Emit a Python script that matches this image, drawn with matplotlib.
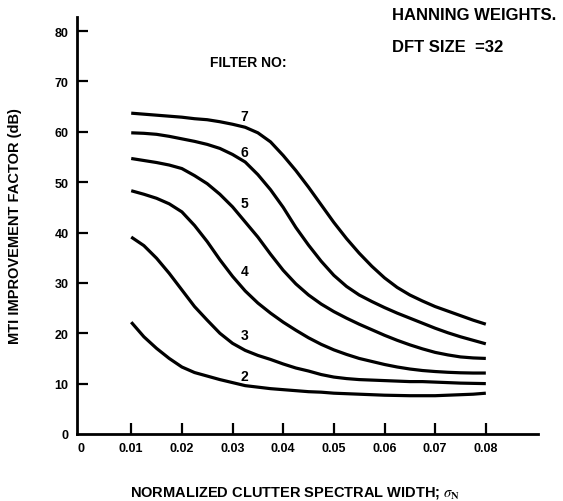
import matplotlib
matplotlib.use("Agg")
import matplotlib.pyplot as plt

plt.rcParams['font.family'] = ['Liberation Sans', 'DejaVu Sans']
plt.rcParams['mathtext.fontset'] = 'stix'

x_vals = [0.0100, 0.0125, 0.0150, 0.0175, 0.0200, 0.0225, 0.0250, 0.0275,
          0.0300, 0.0325, 0.0350, 0.0375, 0.0400, 0.0425, 0.0450, 0.0475,
          0.0500, 0.0525, 0.0550, 0.0575, 0.0600, 0.0625, 0.0650, 0.0675,
          0.0700, 0.0725, 0.0750, 0.0775, 0.0800]

filter_7 = [63.7, 63.5, 63.3, 63.1, 62.9, 62.6, 62.4, 62.0, 61.5, 60.9, 59.8, 58.0,
            55.3, 52.3, 49.0, 45.5, 42.0, 38.8, 35.9, 33.3, 31.0, 29.1, 27.6, 26.4,
            25.3, 24.4, 23.5, 22.6, 21.8]
filter_6 = [59.8, 59.7, 59.5, 59.1, 58.6, 58.1, 57.5, 56.7, 55.5, 54.0, 51.5, 48.5,
            45.0, 41.0, 37.5, 34.3, 31.5, 29.3, 27.6, 26.3, 25.1, 24.0, 23.0, 22.0,
            21.0, 20.1, 19.3, 18.6, 17.9]
filter_5 = [54.7, 54.3, 53.9, 53.4, 52.7, 51.3, 49.7, 47.6, 45.1, 42.1, 39.1, 35.7,
            32.5, 29.8, 27.6, 25.8, 24.3, 23.0, 21.8, 20.7, 19.6, 18.6, 17.7, 16.9,
            16.2, 15.7, 15.3, 15.1, 15.0]
filter_4 = [48.3, 47.6, 46.8, 45.7, 44.1, 41.4, 38.2, 34.6, 31.3, 28.4, 26.0, 24.0,
            22.2, 20.6, 19.1, 17.8, 16.7, 15.8, 15.0, 14.4, 13.8, 13.3, 12.9, 12.6,
            12.4, 12.25, 12.15, 12.1, 12.1]
filter_3 = [39.1, 37.4, 34.9, 31.9, 28.6, 25.3, 22.6, 20.0, 18.0, 16.6, 15.6, 14.8,
            13.9, 13.1, 12.5, 11.8, 11.3, 11.0, 10.8, 10.7, 10.6, 10.5, 10.4, 10.4,
            10.3, 10.2, 10.1, 10.05, 10.0]
filter_2 = [22.2, 19.3, 17.0, 15.0, 13.3, 12.2, 11.5, 10.8, 10.2, 9.6, 9.3, 9.0,
            8.8, 8.6, 8.4, 8.3, 8.1, 8.0, 7.9, 7.8, 7.7, 7.65, 7.6, 7.6,
            7.6, 7.7, 7.8, 7.9, 8.1]

series = {"7": filter_7, "6": filter_6, "5": filter_5,
          "4": filter_4, "3": filter_3, "2": filter_2}
label_x = 0.0323
label_y = {"7": 63.2, "6": 56.0, "5": 45.9, "4": 32.3, "3": 19.6, "2": 11.5}

x_ticks = [0, 0.01, 0.02, 0.03, 0.04, 0.05, 0.06, 0.07, 0.08]
x_tick_labels = ["0", "0.01", "0.02", "0.03", "0.04", "0.05", "0.06", "0.07", "0.08"]
y_ticks = [0, 10, 20, 30, 40, 50, 60, 70, 80]

fig = plt.figure(figsize=(5.63, 5.02), dpi=100)
ax = fig.add_axes([0.1368, 0.1335, 0.8188, 0.8307])

for name, vals in series.items():
    ax.plot(x_vals, vals, color='black', lw=2.3, solid_capstyle='butt',
            solid_joinstyle='round')
    ax.text(label_x, label_y[name], name, ha='center', va='center',
            fontsize=10, fontweight='bold')

ax.set_xlim(-0.0007, 0.0903)
ax.set_ylim(0, 82.8)
ax.set_xticks(x_ticks)
ax.set_xticklabels(x_tick_labels)
ax.set_yticks(y_ticks)
for s in ['top', 'right']:
    ax.spines[s].set_visible(False)
for s in ['left', 'bottom']:
    ax.spines[s].set_linewidth(2.0)
ax.tick_params(axis='both', direction='in', length=8, width=1.6,
               labelsize=9, pad=6)
for lab in ax.get_xticklabels() + ax.get_yticklabels():
    lab.set_fontweight('bold')
ax.xaxis.get_major_ticks()[0].tick1line.set_visible(False)
ax.yaxis.get_major_ticks()[0].tick1line.set_visible(False)

ax.text(0.0331, 73.9, "FILTER NO:", ha='center', va='center',
        fontsize=10, fontweight='bold')

fig.text(0.696, 0.970, "HANNING WEIGHTS.", ha='left', va='center',
         fontsize=12, fontweight='bold')
fig.text(0.696, 0.906, "DFT SIZE  =32", ha='left', va='center',
         fontsize=12, fontweight='bold')

fig.text(0.027, 0.55, "MTI IMPROVEMENT FACTOR (dB)", rotation=90,
         ha='center', va='center', fontsize=10.5, fontweight='bold')
fig.text(0.524, 0.018, r"NORMALIZED CLUTTER SPECTRAL WIDTH; $\sigma_{\mathbf{N}}$",
         ha='center', va='center', fontsize=10.5, fontweight='bold')

fig.savefig("out.png", dpi=100)
